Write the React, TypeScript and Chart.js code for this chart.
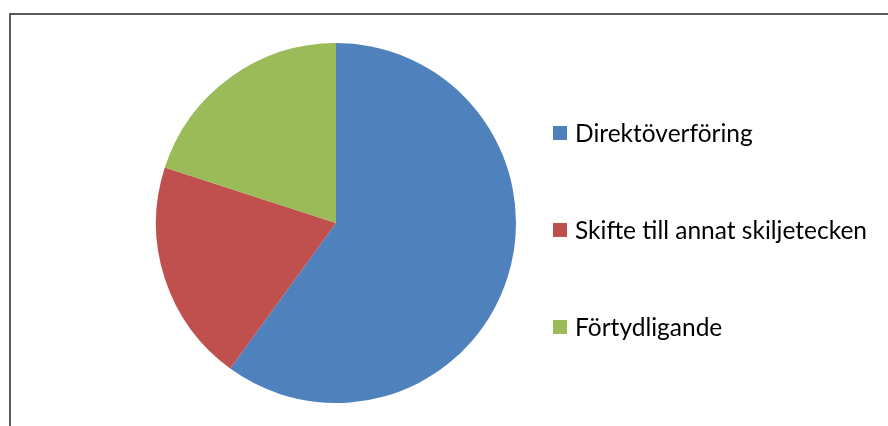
import React, { useEffect, useRef } from "react";
import { Chart, registerables } from "chart.js";

Chart.register(...registerables);

const categories = ["Direktöverföring", "Skifte till annat skiljetecken", "Förtydligande"];
const values = [60, 20, 20];
const colors = ["#4F81BD", "#C0504D", "#9BBB59"];

const framePlugin = {
  id: "frameAndLegend",
  beforeDraw(chart: any) {
    const ctx = chart.ctx;
    ctx.save();
    ctx.fillStyle = "#ffffff";
    ctx.fillRect(0, 0, chart.width, chart.height);
    ctx.strokeStyle = "#5a5a5a";
    ctx.lineWidth = 2;
    ctx.beginPath();
    ctx.moveTo(10, chart.height + 2);
    ctx.lineTo(10, 14);
    ctx.lineTo(chart.width + 2, 14);
    ctx.stroke();
    ctx.restore();
  },
  afterDraw(chart: any) {
    const ctx = chart.ctx;
    ctx.save();
    ctx.font = "24.5px Lato, 'Open Sans', sans-serif";
    ctx.textBaseline = "middle";
    ctx.fillStyle = "#000000";
    const ys = [133, 230, 327];
    categories.forEach((c, i) => {
      ctx.fillStyle = colors[i];
      ctx.fillRect(553, ys[i] - 7, 14, 14);
      ctx.fillStyle = "#000000";
      ctx.fillText(c, 575, ys[i] + 1);
    });
    ctx.restore();
  },
};

export default function App() {
  const ref = useRef<HTMLCanvasElement | null>(null);
  useEffect(() => {
    if (!ref.current) return;
    const chart = new Chart(ref.current, {
      type: "pie",
      data: {
        labels: categories,
        datasets: [
          {
            data: values,
            backgroundColor: colors,
            borderWidth: 0,
          },
        ],
      },
      options: {
        animation: false,
        responsive: false,
        layout: { padding: { left: 156, right: 372, top: 43, bottom: 23 } },
        plugins: {
          legend: { display: false },
          tooltip: { enabled: false },
        },
      },
      plugins: [framePlugin],
    });
    return () => chart.destroy();
  }, []);
  return (
    <div style={{ position: "fixed", left: 0, top: 0, width: 888, height: 426, background: "#fff" }}>
      <canvas ref={ref} width={888} height={426} style={{ display: "block", width: 888, height: 426 }} />
    </div>
  );
}
